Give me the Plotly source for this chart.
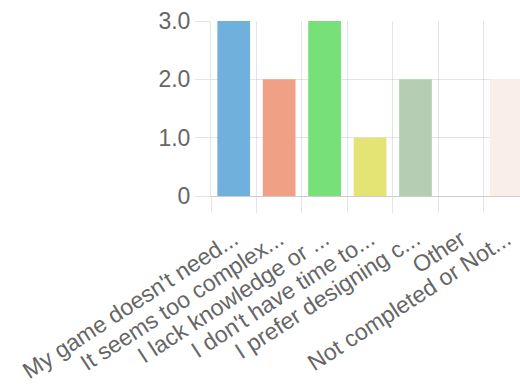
import plotly.graph_objects as go

categories = [
    "My game doesn't need...",
    "It seems too complex...",
    "I lack knowledge or ...",
    "I don't have time to...",
    "I prefer designing c...",
    "Other",
    "Not completed or Not...",
]
values = [3, 2, 3, 1, 2, 0, 2]
bar_colors = ["#70b0dc", "#f0a084", "#78e078", "#e4e474", "#b5ceb3", "#f4e4e4", "#faeee8"]
y_tick_vals = [0, 1, 2, 3]
y_tick_text = ["0", "1.0", "2.0", "3.0"]

grid = "rgba(0,0,0,0.1)"
txt = "#666666"
font = "Liberation Sans, Arial, sans-serif"

fig = go.Figure(go.Bar(x=categories, y=values, marker=dict(color=bar_colors, line=dict(width=0)), width=0.72))

fig.update_layout(
    width=520, height=385,
    margin=dict(l=211, r=0, t=21, b=189, autoexpand=False),
    paper_bgcolor="white", plot_bgcolor="white",
    showlegend=False,
    font=dict(family=font, color=txt),
)
fig.update_xaxes(
    type="category", range=[-0.5, 6.3], tickson="boundaries",
    showgrid=True, gridcolor=grid, gridwidth=1,
    ticks="outside", ticklen=16, tickcolor=grid,
    tickangle=-33, tickfont=dict(size=23, color=txt, family=font),
    ticklabelstandoff=20,
    showline=True, linecolor="rgba(0,0,0,0.2)", linewidth=1,
    automargin=False,
)
fig.update_yaxes(
    range=[0, 3], tickvals=y_tick_vals, ticktext=y_tick_text,
    showgrid=True, gridcolor=grid, gridwidth=1,
    ticks="outside", ticklen=15, tickcolor=grid,
    tickfont=dict(size=23, color=txt, family=font),
    showline=True, linecolor=grid, zeroline=False,
    automargin=False,
)
fig.write_html("out.html")
